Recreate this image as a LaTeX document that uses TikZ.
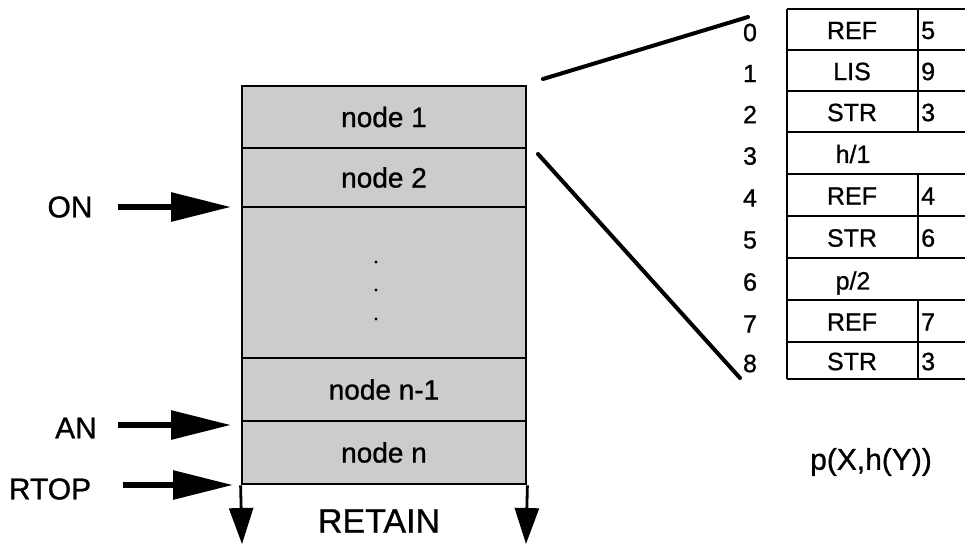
\documentclass[tikz,border=0pt]{standalone}
\usepackage{fontspec}
\setmainfont{Liberation Sans}[FakeBold=0.9]
\usetikzlibrary{arrows.meta}
\begin{document}
\begin{tikzpicture}[x=1pt,y=-1pt,
  cell/.style={draw=black, line width=2.8pt, fill=black!20, minimum width=284pt, inner sep=0pt, font=\fontsize{28}{28}\selectfont},
  lbl/.style={inner sep=0pt, font=\fontsize{30}{30}\selectfont},
  tlbl/.style={inner sep=0pt, font=\fontsize{25}{25}\selectfont},
  bigarrow/.style={line width=6pt, -{Triangle[length=60pt,width=28pt]}},
  downarrow/.style={line width=2.8pt, -{Triangle[length=36pt,width=24pt]}},
  tab/.style={line width=2pt},
  zoomline/.style={line width=4pt, line cap=round}
]
\useasboundingbox (0,0) rectangle (965,544);

% stack
\node[cell, minimum height=62pt] (c1) at (384,117) {node 1};
\node[cell, minimum height=59pt] (c2) at (384,177.5) {node 2};
\node[cell, minimum height=151pt] (cd) at (384,282.5) {};
\node[cell, minimum height=63pt] (c3) at (384,389.5) {node n-1};
\node[cell, minimum height=63pt] (c4) at (384,452.5) {node n};
\foreach \yy in {262,290,319} \fill (376,\yy) circle (1.6pt);

\node[inner sep=0pt, font=\fontsize{34}{34}\selectfont] (ret) at (379,521) {RETAIN};
\coordinate (dl) at (242,544);
\coordinate (dr) at (526,544);
\draw[downarrow] (c4.south west) -- (dl);
\draw[downarrow] (c4.south east) -- (dr);

% left pointers
\node[lbl] (on) at (70,207) {ON};
\node[lbl] (an) at (76,428) {AN};
\node[lbl] (rtop) at (50,489) {RTOP};
\coordinate (onT) at (231,207);
\coordinate (anT) at (231,425);
\coordinate (rtopT) at (233,485);
\draw[bigarrow] (118,207) -- (onT);
\draw[bigarrow] (118,425) -- (anT);
\draw[bigarrow] (123,485) -- (rtopT);

% table
\foreach \yy in {9,50,91,132,174,216,258,300,342,379} \draw[tab] (787,\yy) -- (965,\yy);
\draw[tab] (787,9) -- (787,379);
\draw[tab] (918,9) -- (918,132);
\draw[tab] (918,174) -- (918,258);
\draw[tab] (918,300) -- (918,379);

\foreach \i/\yy/\t/\v in {0/29.5/REF/5, 1/70.5/LIS/9, 2/111.5/STR/3, 4/195/REF/4, 5/237/STR/6, 7/321/REF/7, 8/360.5/STR/3}{
  \node[tlbl] (i\i) at (750,\yy+3) {\i};
  \node[tlbl] (t\i) at (852,\yy+1) {\t};
  \node[tlbl, anchor=west] (v\i) at (921,\yy+1) {\v};
}
\node[tlbl] (i3) at (750,156) {3};
\node[tlbl] (t3) at (853,154) {h/1};
\node[tlbl] (i6) at (750,282) {6};
\node[tlbl] (t6) at (853,283) {p/2};

% zoom lines
\coordinate (a1) at (543,79);
\coordinate (a2) at (748,17);
\coordinate (b1) at (538,154);
\coordinate (b2) at (740,378);
\draw[zoomline] (a1) -- (a2);
\draw[zoomline] (b1) -- (b2);

\node[lbl] (term) at (871,462) {p(X,h(Y))};
\end{tikzpicture}
\end{document}
